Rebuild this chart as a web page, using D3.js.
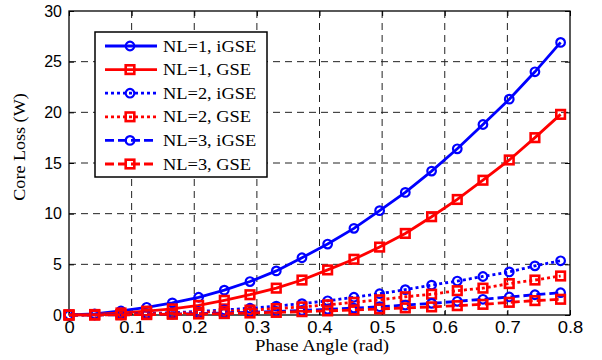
<!DOCTYPE html>
<html>
<head>
<meta charset="utf-8">
<script src="https://cdn.jsdelivr.net/npm/d3@7"></script>
<style>
  body { margin: 0; background: #fff; }
  svg { display: block; }
</style>
</head>
<body>
<svg id="chart"></svg>
<script>
// phase angle samples (rad)
const phase = [0, 0.041, 0.083, 0.124, 0.165, 0.207, 0.248, 0.289, 0.331, 0.372,
	0.413, 0.455, 0.496, 0.537, 0.579, 0.620, 0.661, 0.703, 0.744, 0.785];

// core loss (W)
const nl1iGSE = [0, 0.1, 0.4, 0.76, 1.2, 1.75, 2.45, 3.3, 4.35, 5.65, 7.0, 8.55, 10.3, 12.1, 14.2, 16.4, 18.8, 21.3, 24.0, 26.9];
const nl1GSE = [0, 0.05, 0.2, 0.38, 0.6, 0.95, 1.45, 2.0, 2.65, 3.45, 4.45, 5.5, 6.7, 8.05, 9.7, 11.4, 13.3, 15.3, 17.5, 19.8];
const nl2iGSE = [0, 0.02, 0.06, 0.14, 0.23, 0.35, 0.5, 0.67, 0.88, 1.12, 1.4, 1.75, 2.1, 2.5, 2.95, 3.35, 3.8, 4.25, 4.85, 5.35];
const nl2GSE = [0, 0.01, 0.04, 0.1, 0.17, 0.25, 0.36, 0.48, 0.63, 0.8, 1.0, 1.25, 1.5, 1.8, 2.05, 2.4, 2.65, 3.1, 3.45, 3.85];
const nl3iGSE = [0, 0.01, 0.02, 0.05, 0.09, 0.14, 0.2, 0.27, 0.35, 0.45, 0.56, 0.68, 0.82, 0.98, 1.15, 1.35, 1.55, 1.78, 2.0, 2.2];
const nl3GSE = [0, 0.0, 0.02, 0.04, 0.07, 0.1, 0.14, 0.2, 0.26, 0.33, 0.41, 0.5, 0.6, 0.7, 0.8, 0.92, 1.05, 1.25, 1.42, 1.55];

const seriesNames = ['NL=1, iGSE', 'NL=1, GSE', 'NL=2, iGSE', 'NL=2, GSE', 'NL=3, iGSE', 'NL=3, GSE'];
const xTicks = [0, 0.1, 0.2, 0.3, 0.4, 0.5, 0.6, 0.7, 0.8];
const yTicks = [0, 5, 10, 15, 20, 25, 30];

const series = [
	{ name: seriesNames[0], values: nl1iGSE, color: '#0000ff', marker: 'circle', dash: null },
	{ name: seriesNames[1], values: nl1GSE, color: '#ff0000', marker: 'square', dash: null },
	{ name: seriesNames[2], values: nl2iGSE, color: '#0000ff', marker: 'circle', dash: '3,3' },
	{ name: seriesNames[3], values: nl2GSE, color: '#ff0000', marker: 'square', dash: '3,3' },
	{ name: seriesNames[4], values: nl3iGSE, color: '#0000ff', marker: 'circle', dash: '9,4' },
	{ name: seriesNames[5], values: nl3GSE, color: '#ff0000', marker: 'square', dash: '9,4' }
];

const width = 602;
const height = 360;
const plotL = 69, plotR = 570, plotT = 11, plotB = 315;

const svg = d3.select('#chart')
	.attr('width', width)
	.attr('height', height);

const xScale = d3.scaleLinear().domain([0, 0.8]).range([plotL, plotR]);
const yScale = d3.scaleLinear().domain([0, 30]).range([plotB, plotT]);

// stretch text a bit wider, the figure's fonts look scaled
function stretch(sel, k) {
	sel.each(function () {
		const len = this.getComputedTextLength();
		d3.select(this).attr('textLength', len * k).attr('lengthAdjust', 'spacingAndGlyphs');
	});
}

// grid
svg.append('g')
	.selectAll('line')
	.data(xTicks.slice(1, -1))
	.join('line')
	.attr('x1', d => xScale(d)).attr('x2', d => xScale(d))
	.attr('y1', plotT).attr('y2', plotB)
	.attr('stroke', '#222').attr('stroke-width', 1).attr('stroke-dasharray', '7,5');

svg.append('g')
	.selectAll('line')
	.data(yTicks.slice(1, -1))
	.join('line')
	.attr('x1', plotL).attr('x2', plotR)
	.attr('y1', d => yScale(d)).attr('y2', d => yScale(d))
	.attr('stroke', '#222').attr('stroke-width', 1).attr('stroke-dasharray', '7,5');

// axes, ticks pointing inward on all four sides
const xAxisB = d3.axisBottom(xScale).tickValues(xTicks).tickSize(-5).tickPadding(7).tickFormat(d => d === 0 ? '0' : d3.format('.1f')(d));
const xAxisT = d3.axisTop(xScale).tickValues(xTicks).tickSize(-5).tickFormat('');
const yAxisL = d3.axisLeft(yScale).tickValues(yTicks).tickSize(-5).tickPadding(7);
const yAxisR = d3.axisRight(yScale).tickValues(yTicks).tickSize(-5).tickFormat('');

const gxb = svg.append('g').attr('transform', `translate(0, ${plotB})`).call(xAxisB);
svg.append('g').attr('transform', `translate(0, ${plotT})`).call(xAxisT);
const gyl = svg.append('g').attr('transform', `translate(${plotL}, 0)`).call(yAxisL);
svg.append('g').attr('transform', `translate(${plotR}, 0)`).call(yAxisR);

svg.selectAll('.domain').remove();
svg.selectAll('.tick line').attr('stroke', '#000').attr('stroke-width', 1);
svg.selectAll('.tick text')
	.attr('font-family', 'Liberation Sans, Arial, sans-serif')
	.attr('font-size', 16)
	.attr('fill', '#000');
gxb.selectAll('.tick text').call(stretch, 1.15);

// frame
svg.append('rect')
	.attr('x', plotL).attr('y', plotT)
	.attr('width', plotR - plotL).attr('height', plotB - plotT)
	.attr('fill', 'none').attr('stroke', '#000').attr('stroke-width', 1.3);

// series
const line = d3.line()
	.x((d, i) => xScale(phase[i]))
	.y(d => yScale(d));

function drawMarker(g, type, color) {
	if (type === 'circle') {
		g.append('circle').attr('r', 4.3).attr('fill', 'none')
			.attr('stroke', color).attr('stroke-width', 2.2);
	} else {
		g.append('rect').attr('x', -4.3).attr('y', -4.3).attr('width', 8.6).attr('height', 8.6)
			.attr('fill', 'none').attr('stroke', color).attr('stroke-width', 2.6);
	}
}

series.forEach(s => {
	const g = svg.append('g');
	g.append('path')
		.datum(s.values)
		.attr('d', line)
		.attr('fill', 'none')
		.attr('stroke', s.color)
		.attr('stroke-width', 2.8)
		.attr('stroke-dasharray', s.dash);
	s.values.forEach((v, i) => {
		const m = g.append('g').attr('transform', `translate(${xScale(phase[i])}, ${yScale(v)})`);
		drawMarker(m, s.marker, s.color);
	});
});

// legend
const lg = svg.append('g').attr('transform', 'translate(95, 32)');
lg.append('rect')
	.attr('width', 172).attr('height', 145)
	.attr('fill', '#fff').attr('stroke', '#000').attr('stroke-width', 1.5);

series.forEach((s, i) => {
	const row = lg.append('g').attr('transform', `translate(0, ${14 + i * 23.6})`);
	row.append('line')
		.attr('x1', 10).attr('x2', 62)
		.attr('stroke', s.color).attr('stroke-width', 2.8)
		.attr('stroke-dasharray', s.dash);
	const m = row.append('g').attr('transform', 'translate(35, 0)');
	drawMarker(m, s.marker, s.color);
	row.append('text')
		.attr('x', 68).attr('y', 5.5)
		.attr('font-family', 'Liberation Serif, Times New Roman, serif')
		.attr('font-size', 16)
		.text(s.name)
		.call(stretch, 1.15);
});

// axis titles
svg.append('text')
	.attr('x', 322).attr('y', 351)
	.attr('text-anchor', 'middle')
	.attr('font-family', 'Liberation Serif, Times New Roman, serif')
	.attr('font-size', 17)
	.text('Phase Angle (rad)')
	.call(stretch, 1.1);

svg.append('text')
	.attr('transform', 'translate(25, 147) rotate(-90)')
	.attr('text-anchor', 'middle')
	.attr('font-family', 'Liberation Serif, Times New Roman, serif')
	.attr('font-size', 16)
	.text('Core Loss (W)')
	.call(stretch, 1.13);
</script>
</body>
</html>
